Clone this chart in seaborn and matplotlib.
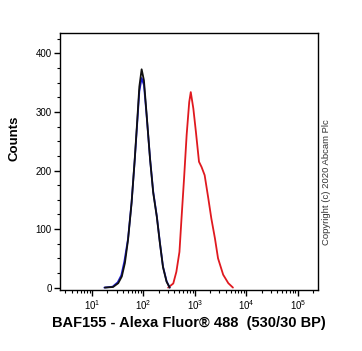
import numpy as np
import pandas as pd
import seaborn as sns
import matplotlib.pyplot as plt
from matplotlib.ticker import MultipleLocator, LogLocator

# log10 fluorescence and counts
black_log = [1.25, 1.41, 1.51, 1.58, 1.64, 1.70, 1.77, 1.83, 1.88, 1.92, 1.965, 2.01, 2.06, 2.13, 2.19, 2.26, 2.32, 2.38, 2.45, 2.51]
black_cnt = [0, 1, 7.5, 19, 42, 81, 145, 218, 286, 343, 373, 354, 298, 218, 162, 121, 76, 35, 10, 0]
blue_log = [1.24, 1.40, 1.50, 1.57, 1.63, 1.70, 1.77, 1.83, 1.88, 1.92, 1.965, 2.01, 2.06, 2.13, 2.19, 2.26, 2.32, 2.38, 2.45, 2.51]
blue_cnt = [0, 1.5, 9, 21, 45, 83, 146, 217, 282, 335, 358, 346, 296, 219, 164, 122, 77, 36, 11, 0]
red_log = [2.48, 2.58, 2.64, 2.70, 2.74, 2.79, 2.84, 2.89, 2.92, 2.97, 3.02, 3.08, 3.13, 3.19, 3.26, 3.32, 3.39, 3.45, 3.55, 3.65, 3.74]
red_cnt = [0, 7, 27, 61, 118, 187, 261, 317, 334, 306, 266, 215, 206, 192, 153, 118, 84, 50, 22, 7.5, 0]

df = pd.concat([
    pd.DataFrame({"fl": np.power(10.0, red_log), "count": red_cnt, "sample": "BAF155"}),
    pd.DataFrame({"fl": np.power(10.0, blue_log), "count": blue_cnt, "sample": "isotype"}),
    pd.DataFrame({"fl": np.power(10.0, black_log), "count": black_cnt, "sample": "unlabelled"}),
])

sns.set_style("ticks")
plt.rcParams['font.family'] = ['Liberation Sans', 'DejaVu Sans']
plt.rcParams['mathtext.fontset'] = 'custom'
plt.rcParams['mathtext.rm'] = 'Liberation Sans'
plt.rcParams['text.color'] = 'black'
plt.rcParams['axes.labelcolor'] = 'black'

fig = plt.figure(figsize=(3.62, 3.51), dpi=100)
ax = fig.add_axes([0.166, 0.174, 0.712, 0.732])

sns.lineplot(data=df, x="fl", y="count", hue="sample", sort=False,
             palette={"BAF155": "#e0191f", "isotype": "#1a1ad0", "unlabelled": "#101010"},
             linewidth=1.3, legend=False, ax=ax, estimator=None)
for ln in ax.lines:
    ln.set_solid_joinstyle("round")

ax.set_xscale("log")
ax.set_xlim(10 ** 0.38, 10 ** 5.39)
ax.set_ylim(-4, 435)
ax.yaxis.set_major_locator(MultipleLocator(100))
ax.yaxis.set_minor_locator(MultipleLocator(25))
ax.xaxis.set_major_locator(LogLocator(base=10, numticks=10))
ax.xaxis.set_minor_locator(LogLocator(base=10, subs=np.arange(2, 10), numticks=20))
ax.tick_params(axis="both", which="major", labelsize=7, length=4, width=1, pad=2, colors="black")
ax.tick_params(axis="both", which="minor", length=2, width=0.8, colors="black")
for s in ax.spines.values():
    s.set_linewidth(1)
    s.set_color("black")

ax.set_xlabel("BAF155 - Alexa Fluor\u00ae 488  (530/30 BP)", fontsize=10.5, fontweight="bold", labelpad=3)
ax.set_ylabel("Counts", fontsize=9.5, fontweight="bold")
ax.yaxis.set_label_coords(-0.152, 0.59)
fig.text(0.903, 0.482, "Copyright (c) 2020 Abcam Plc", rotation=90, fontsize=6.8,
         ha="center", va="center", color="#333333")

fig.savefig("out.png", dpi=100)
